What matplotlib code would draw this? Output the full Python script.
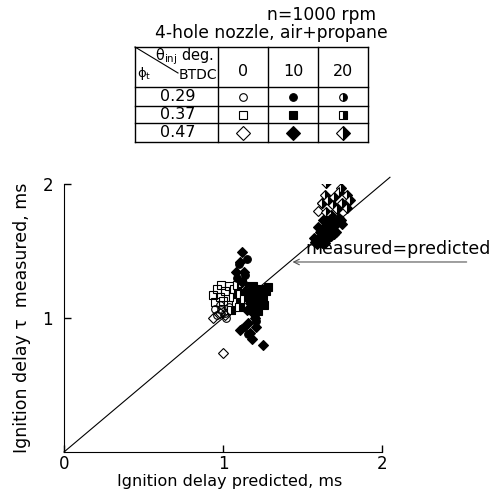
import matplotlib.pyplot as plt

plt.rcParams['font.family'] = ['DejaVu Sans']
plt.rcParams['mathtext.fontset'] = 'dejavusans'

# Table of symbols: rows = equivalence ratio, columns = injection timing
phi_labels = ["0.29", "0.37", "0.47"]
inj_labels = ["0", "10", "20"]
row_markers = ["o", "s", "D"]
col_fill = ["none", "full", "right"]

# Measured vs predicted ignition delay (ms)
pred_029_0 = [0.96, 0.99, 1.02, 1.04, 0.98, 1.01, 0.95]
meas_029_0 = [1.02, 1.06, 1.00, 1.08, 1.10, 1.04, 1.07]
pred_029_10 = [1.10, 1.14, 1.18, 1.21, 1.16, 1.13, 1.09, 1.15, 1.20]
meas_029_10 = [1.40, 1.32, 1.12, 0.98, 0.88, 0.93, 1.30, 1.44, 1.02]
pred_037_0 = [0.95, 0.98, 1.01, 1.04, 0.96, 1.00, 1.03, 1.06, 0.94, 0.99]
meas_037_0 = [1.12, 1.16, 1.20, 1.24, 1.22, 1.13, 1.10, 1.18, 1.17, 1.25]
pred_037_10 = [1.18, 1.21, 1.24, 1.27, 1.19, 1.23, 1.26, 1.20, 1.22, 1.25, 1.28, 1.17]
meas_037_10 = [1.08, 1.12, 1.16, 1.20, 1.24, 1.22, 1.10, 1.18, 1.05, 1.14, 1.23, 1.15]
pred_037_20 = [1.05, 1.08, 1.11, 1.14, 1.16, 1.07, 1.10, 1.13, 1.16, 1.06, 1.12, 1.09]
meas_037_20 = [1.06, 1.12, 1.18, 1.24, 1.10, 1.22, 1.08, 1.14, 1.20, 1.16, 1.26, 1.25]
pred_047_0 = [1.00, 0.94, 0.98, 1.01, 1.62, 1.60]
meas_047_0 = [0.74, 1.00, 1.04, 1.02, 1.86, 1.80]
pred_047_10 = [1.12, 1.11, 1.08, 1.13, 1.12, 1.17, 1.19, 1.16, 1.11, 1.17, 1.18, 1.25, 1.21,
               1.14, 1.20, 1.15,
               1.58, 1.60, 1.62, 1.64, 1.66, 1.68, 1.70, 1.72, 1.74, 1.61, 1.63, 1.66, 1.69,
               1.65, 1.68, 1.71, 1.62, 1.59, 1.73, 1.67, 1.60, 1.64, 1.70, 1.57, 1.75, 1.63]
meas_047_10 = [1.49, 1.42, 1.34, 1.34, 1.27, 1.11, 1.04, 0.96, 0.91, 0.89, 0.84, 0.80, 0.93,
               1.20, 1.00, 1.06,
               1.57, 1.59, 1.61, 1.63, 1.65, 1.67, 1.69, 1.71, 1.73, 1.64, 1.67, 1.70, 1.72,
               1.58, 1.61, 1.64, 1.56, 1.55, 1.75, 1.74, 1.68, 1.56, 1.63, 1.60, 1.70, 1.73]
pred_047_20 = [1.65, 1.64, 1.74, 1.70, 1.78, 1.62, 1.69, 1.75, 1.80, 1.65, 1.72, 1.78, 1.68,
               1.73, 1.66]
meas_047_20 = [2.01, 1.92, 1.97, 1.90, 1.92, 1.86, 1.84, 1.86, 1.88, 1.79, 1.81, 1.82, 1.77,
               1.94, 1.88]

series = [
    (0, 0, pred_029_0, meas_029_0),
    (1, 0, pred_037_0, meas_037_0),
    (1, 2, pred_037_20, meas_037_20),
    (1, 1, pred_037_10, meas_037_10),
    (0, 1, pred_029_10, meas_029_10),
    (2, 0, pred_047_0, meas_047_0),
    (2, 2, pred_047_20, meas_047_20),
    (2, 1, pred_047_10, meas_047_10),
]
marker_size = {"o": 5.5, "s": 6.0, "D": 5.2}


def style(ri, ci):
    fs = col_fill[ci]
    return dict(marker=row_markers[ri], ms=marker_size[row_markers[ri]],
                color="black", mec="black", mew=0.8, fillstyle=fs,
                mfc="white" if fs == "none" else "black", markerfacecoloralt="white")


fig = plt.figure(figsize=(4.95, 4.93), dpi=100)
ax = fig.add_axes([64 / 495, 1 - 452 / 493, 318 / 495, 268 / 493])

ax.plot([0, 2.05], [0, 2.05], color="black", lw=0.8, clip_on=False)

for ri, ci, xs, ys in series:
    ax.plot(xs, ys, linestyle="none", **style(ri, ci))

ax.set_xlim(0, 2)
ax.set_ylim(0, 2)
ax.set_xticks([0, 1, 2])
ax.set_yticks([1, 2])
ax.tick_params(direction="in", length=5, width=1, labelsize=12)
ax.tick_params(axis="x", pad=2)
ax.tick_params(axis="y", pad=8)
for s in ["top", "right"]:
    ax.spines[s].set_visible(False)
ax.set_xlabel("Ignition delay predicted, ms", fontsize=11.5, va="top")
ax.xaxis.set_label_coords(0.52, -22 / 268)
ax.set_ylabel("Ignition delay τ  measured, ms", fontsize=12.5, labelpad=8)

ax.annotate("", xy=(1.42, 1.418), xytext=(2.55, 1.418),
            arrowprops=dict(arrowstyle="->", lw=0.8, color="#555555"),
            annotation_clip=False)
ax.text(1.52, 1.445, "measured=predicted", fontsize=12.5, ha="left", va="bottom",
        clip_on=False)

# symbol table on top, drawn in pixel coordinates
tb = fig.add_axes([0, 0, 1, 1])
tb.set_xlim(0, 495)
tb.set_ylim(493, 0)
tb.axis("off")
tb.patch.set_alpha(0)

tb.text(322, 15, "n=1000 rpm", ha="center", va="center", fontsize=12.3)
tb.text(271, 33, "4-hole nozzle, air+propane", ha="center", va="center", fontsize=12.3)

col_x = [135, 218, 268, 318, 368]
row_y = [47, 87, 106, 123, 142]
for x in col_x:
    tb.plot([x, x], [row_y[0], row_y[-1]], color="black", lw=1)
for y in row_y:
    tb.plot([col_x[0], col_x[-1]], [y, y], color="black", lw=1)
tb.plot([135, 178], [47, 73], color="black", lw=0.8)

tb.text(155, 57, r"$\mathregular{θ_{inj}}$ deg.", fontsize=10.5, ha="left", va="center")
tb.text(137, 74, r"$\mathregular{ϕ_t}$", fontsize=9.5, ha="left", va="center")
tb.text(179, 75, "BTDC", fontsize=10, ha="left", va="center")

for j, lab in enumerate(inj_labels):
    cx = (col_x[j + 1] + col_x[j + 2]) / 2
    tb.text(cx, 72, lab, fontsize=11.5, ha="center", va="center")

for i, lab in enumerate(phi_labels):
    cy = (row_y[i + 1] + row_y[i + 2]) / 2
    tb.text(178, cy, lab, fontsize=11.5, ha="center", va="center")
    for j in range(len(inj_labels)):
        cx = (col_x[j + 1] + col_x[j + 2]) / 2
        st = style(i, j)
        if row_markers[i] == "D":
            st["ms"] += 2
        tb.plot([cx], [cy], **st)

fig.savefig("out.png", dpi=100)
